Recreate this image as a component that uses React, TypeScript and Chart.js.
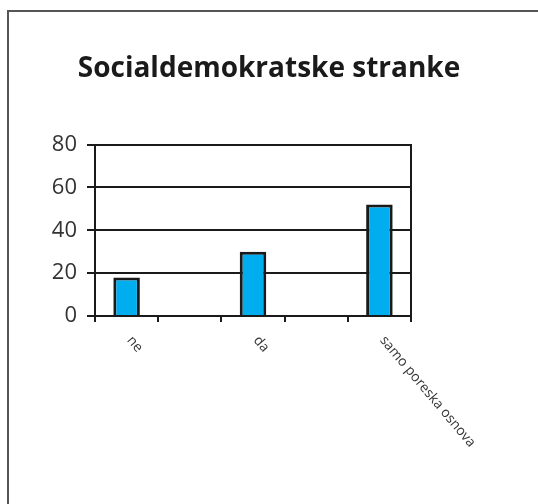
import React, { useEffect, useRef } from "react";
import { Chart, registerables } from "chart.js";

Chart.register(...registerables);

const categories = ["ne", "", "da", "", "samo poreska osnova"];
const values = [18, null, 30, null, 52];
const yTicks = [0, 20, 40, 60, 80];
const titleText = "Socialdemokratske stranke";

const FONT = "'Open Sans', 'Noto Sans', sans-serif";

// Slanted category labels running down to the right from each bar centre
const slantedLabels = {
  id: "slantedLabels",
  afterDraw(chart: any) {
    const x = chart.scales.x;
    const ctx = chart.ctx;
    ctx.save();
    ctx.font = `13.8px ${FONT}`;
    ctx.fillStyle = "#333";
    ctx.textAlign = "left";
    ctx.textBaseline = "middle";
    categories.forEach((lab, i) => {
      if (!lab) return;
      const px = x.getPixelForValue(i);
      ctx.save();
      ctx.translate(px + 3, x.top + 22);
      ctx.rotate((50 * Math.PI) / 180);
      ctx.fillText(lab, 0, 0);
      ctx.restore();
    });
    ctx.restore();
  },
};

export default function App() {
  const ref = useRef<HTMLCanvasElement>(null);

  useEffect(() => {
    if (!ref.current) return;
    const chart = new Chart(ref.current, {
      type: "bar",
      data: {
        labels: categories,
        datasets: [
          {
            data: values,
            backgroundColor: "#00AEEF",
            borderColor: "#1a1a1a",
            borderWidth: 3,
            barPercentage: 0.42,
            categoryPercentage: 1,
          },
        ],
      },
      options: {
        animation: false,
        responsive: false,
        layout: { padding: 0 },
        plugins: {
          legend: { display: false },
          tooltip: { enabled: false },
          title: {
            display: true,
            text: titleText,
            color: "#1a1a1a",
            font: { family: FONT, size: 28, weight: "bold" },
            padding: { top: 52, bottom: 59 },
            align: "center",
          },
        },
        scales: {
          x: {
            grid: {
              display: true,
              drawOnChartArea: false,
              drawTicks: true,
              tickLength: 6,
              color: "#1a1a1a",
              lineWidth: 2,
              offset: true,
            },
            border: { display: true, color: "#1a1a1a", width: 2 },
            ticks: { display: false },
            afterFit(scale: any) {
              scale.height = 188;
            },
          },
          y: {
            min: 0,
            max: 80,
            afterBuildTicks(scale: any) {
              scale.ticks = yTicks.map((v) => ({ value: v }));
            },
            grid: {
              color: "#1a1a1a",
              lineWidth: 2,
              tickLength: 8,
              drawTicks: true,
            },
            border: { display: true, color: "#1a1a1a", width: 2 },
            ticks: {
              color: "#333",
              padding: 10,
              font: { family: FONT, size: 22 },
            },
            afterFit(scale: any) {
              scale.width = 95;
            },
          },
          y2: {
            position: "right",
            min: 0,
            max: 80,
            grid: { display: false },
            border: { display: true, color: "#1a1a1a", width: 2 },
            ticks: { display: false },
            afterFit(scale: any) {
              scale.width = 127;
            },
          },
        },
      },
      plugins: [slantedLabels],
    });
    return () => chart.destroy();
  }, []);

  return (
    <div style={{ position: "fixed", left: 0, top: 0, width: 538, height: 504, background: "#fff" }}>
      <div
        style={{
          position: "absolute",
          left: 7,
          top: 10,
          width: 540,
          height: 500,
          borderLeft: "2px solid #555",
          borderTop: "2px solid #555",
        }}
      />
      <canvas ref={ref} width={538} height={504} style={{ position: "absolute", left: 0, top: 0 }} />
    </div>
  );
}
